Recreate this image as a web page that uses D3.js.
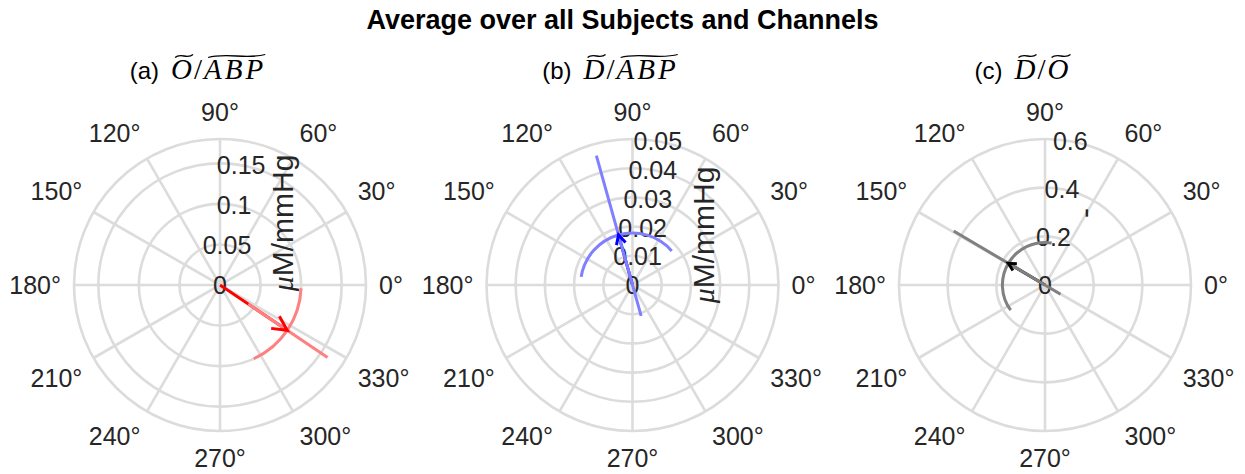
<!DOCTYPE html>
<html>
<head>
<meta charset="utf-8">
<script src="https://cdn.jsdelivr.net/npm/d3@7"></script>
<style>
  body { margin: 0; background: #fff; }
  text { font-family: "Liberation Sans", Arial, sans-serif; fill: #262626; }
</style>
</head>
<body>
<svg id="chart" width="1245" height="474"></svg>
<script>
// values
const panelTags = ["(a)", "(b)", "(c)"];
const numerators = ["O", "D", "D"];
const denominators = ["ABP", "ABP", "O"];
const rMax = [0.18, 0.05, 0.6];
const rTicks = [
  [0, 0.05, 0.1, 0.15],
  [0, 0.01, 0.02, 0.03, 0.04, 0.05],
  [0, 0.2, 0.4, 0.6]
];
const thetaTicks = d3.range(0, 360, 30);
const meanMag = [0.100, 0.0178, 0.175];
const meanAngle = [326, 105.6, 149.4];
const magLow = [0.042, -0.011, -0.074];
const magHigh = [0.160, 0.046, 0.436];
const angLow = [294.6, 41, 81];
const angHigh = [357.7, 171, 216.3];
const unitLabels = ["M/mmHg", "M/mmHg", "-"];
const unitMu = [true, true, false];
const lightColors = ["#ff8080", "#8080ff", "#808080"];
const darkColors = ["#ff0000", "#0000ff", "#000000"];

// layout
const W = 1245, H = 474;
const R = 146, CY = 285;
const xCenter = d3.scalePoint().domain(panelTags).range([220, 1045]);
const unitOffset = [[73, -62], [81.7, -50], [50.4, -72]];

const svg = d3.select("#chart");

svg.append("text")
  .attr("x", W / 2).attr("y", 29)
  .attr("text-anchor", "middle")
  .style("font-size", "27px").style("font-weight", "bold").style("fill", "#000")
  .text("Average over all Subjects and Channels");

const rad = d => d * Math.PI / 180;
const pt = (r, deg) => [r * Math.cos(rad(deg)), -r * Math.sin(rad(deg))];

panelTags.forEach((tag, i) => {
  const cx = xCenter(tag);
  const rs = d3.scaleLinear().domain([0, rMax[i]]).range([0, R]);
  const g = svg.append("g").attr("transform", `translate(${cx},${CY})`);

  // grid: rings + spokes
  const rings = rTicks[i].filter(v => v > 0);
  if (rings[rings.length - 1] < rMax[i]) rings.push(rMax[i]);
  g.selectAll(".ring").data(rings).enter().append("circle")
    .attr("r", d => rs(d))
    .attr("fill", "none").attr("stroke", "#dcdcdc").attr("stroke-width", 2.6);
  g.selectAll(".spoke").data(thetaTicks).enter().append("line")
    .attr("x1", 0).attr("y1", 0)
    .attr("x2", d => pt(R, d)[0]).attr("y2", d => pt(R, d)[1])
    .attr("stroke", "#dcdcdc").attr("stroke-width", 2.6);

  // theta labels
  g.selectAll(".tl").data(thetaTicks).enter().append("text")
    .attr("x", d => pt(159, d)[0]).attr("y", d => pt(159, d)[1])
    .attr("text-anchor", d => {
      const c = Math.cos(rad(d));
      return c > 0.01 ? "start" : c < -0.01 ? "end" : "middle";
    })
    .attr("dy", d => {
      const s = Math.sin(rad(d));
      return s > 0.01 ? "-0.212em" : s < -0.01 ? "0.905em" : "0.35em";
    })
    .style("font-size", "25px")
    .text(d => d + "\u00b0");

  // r tick labels along 80 degrees
  g.selectAll(".rl").data(rTicks[i]).enter().append("text")
    .attr("x", d => pt(rs(d), 80)[0]).attr("y", d => pt(rs(d), 80)[1])
    .attr("text-anchor", "middle").attr("dy", "0.36em")
    .style("font-size", "25px")
    .text(d => d3.format("~g")(d));

  // unit label
  const ul = g.append("text")
    .attr("transform", `translate(${unitOffset[i][0]},${unitOffset[i][1]}) rotate(-90)`)
    .attr("text-anchor", "middle")
    .style("font-size", "30px");
  if (unitMu[i]) ul.append("tspan")
    .style("font-family", "'Liberation Serif', serif").style("font-style", "italic")
    .text("\u03bc");
  ul.append("tspan").text(unitLabels[i]);

  // mean arrow shaft
  const tip = pt(rs(meanMag[i]), meanAngle[i]);
  g.append("line")
    .attr("x1", 0).attr("y1", 0).attr("x2", tip[0]).attr("y2", tip[1])
    .attr("stroke", darkColors[i]).attr("stroke-width", 3);

  // magnitude interval
  const lo = pt(rs(magLow[i]), meanAngle[i]);
  const hi = pt(rs(magHigh[i]), meanAngle[i]);
  g.append("line")
    .attr("x1", lo[0]).attr("y1", lo[1]).attr("x2", hi[0]).attr("y2", hi[1])
    .attr("stroke", lightColors[i]).attr("stroke-width", 3);

  // angle interval arc
  const p = d3.path();
  p.arc(0, 0, rs(meanMag[i]), -rad(angLow[i]), -rad(angHigh[i]), true);
  g.append("path").attr("d", p.toString())
    .attr("fill", "none").attr("stroke", lightColors[i]).attr("stroke-width", 3);

  // arrow head
  const hl = 0.2 * rs(meanMag[i]);
  const back = meanAngle[i] + 180;
  const b1 = pt(hl, back + 27), b2 = pt(hl, back - 27);
  g.append("path")
    .attr("d", d3.line()([[tip[0] + b1[0], tip[1] + b1[1]], tip, [tip[0] + b2[0], tip[1] + b2[1]]]))
    .attr("fill", "none").attr("stroke", darkColors[i]).attr("stroke-width", 3)
    .attr("stroke-linejoin", "miter");

  // subtitle with tilde accents
  const st = svg.append("text")
    .attr("x", cx - 22).attr("y", 79)
    .attr("text-anchor", "middle")
    .style("fill", "#000");
  st.append("tspan").style("font-size", "24px").text(tag + "\u2002");
  const serif = s => s.style("font-family", "'Liberation Serif', serif").style("font-size", "29px");
  serif(st.append("tspan")).style("font-style", "italic").attr("letter-spacing", "2px").text(numerators[i]);
  serif(st.append("tspan")).attr("letter-spacing", "2px").text("/");
  serif(st.append("tspan")).style("font-style", "italic").attr("letter-spacing", "3px").text(denominators[i]);

  const node = st.node();
  const n0 = tag.length + 1;
  const d0 = n0 + numerators[i].length + 1;
  const spans = [[n0, n0 + numerators[i].length - 1], [d0, d0 + denominators[i].length - 1]];
  spans.forEach(([a, b]) => {
    const ea = node.getExtentOfChar(a), eb = node.getExtentOfChar(b);
    const x0 = ea.x + 4, x1 = eb.x + eb.width - 1;
    const y = ea.y + 3;
    const w = x1 - x0;
    g.append("path")
      .attr("transform", `translate(${-cx},${-CY})`)
      .attr("d", `M${x0},${y + 1.5} C${x0 + w * 0.3},${y - 3.5} ${x0 + w * 0.7},${y + 3.5} ${x1},${y - 1.5}`)
      .attr("fill", "none").attr("stroke", "#000").attr("stroke-width", 1.3);
  });
});
</script>
</body>
</html>
